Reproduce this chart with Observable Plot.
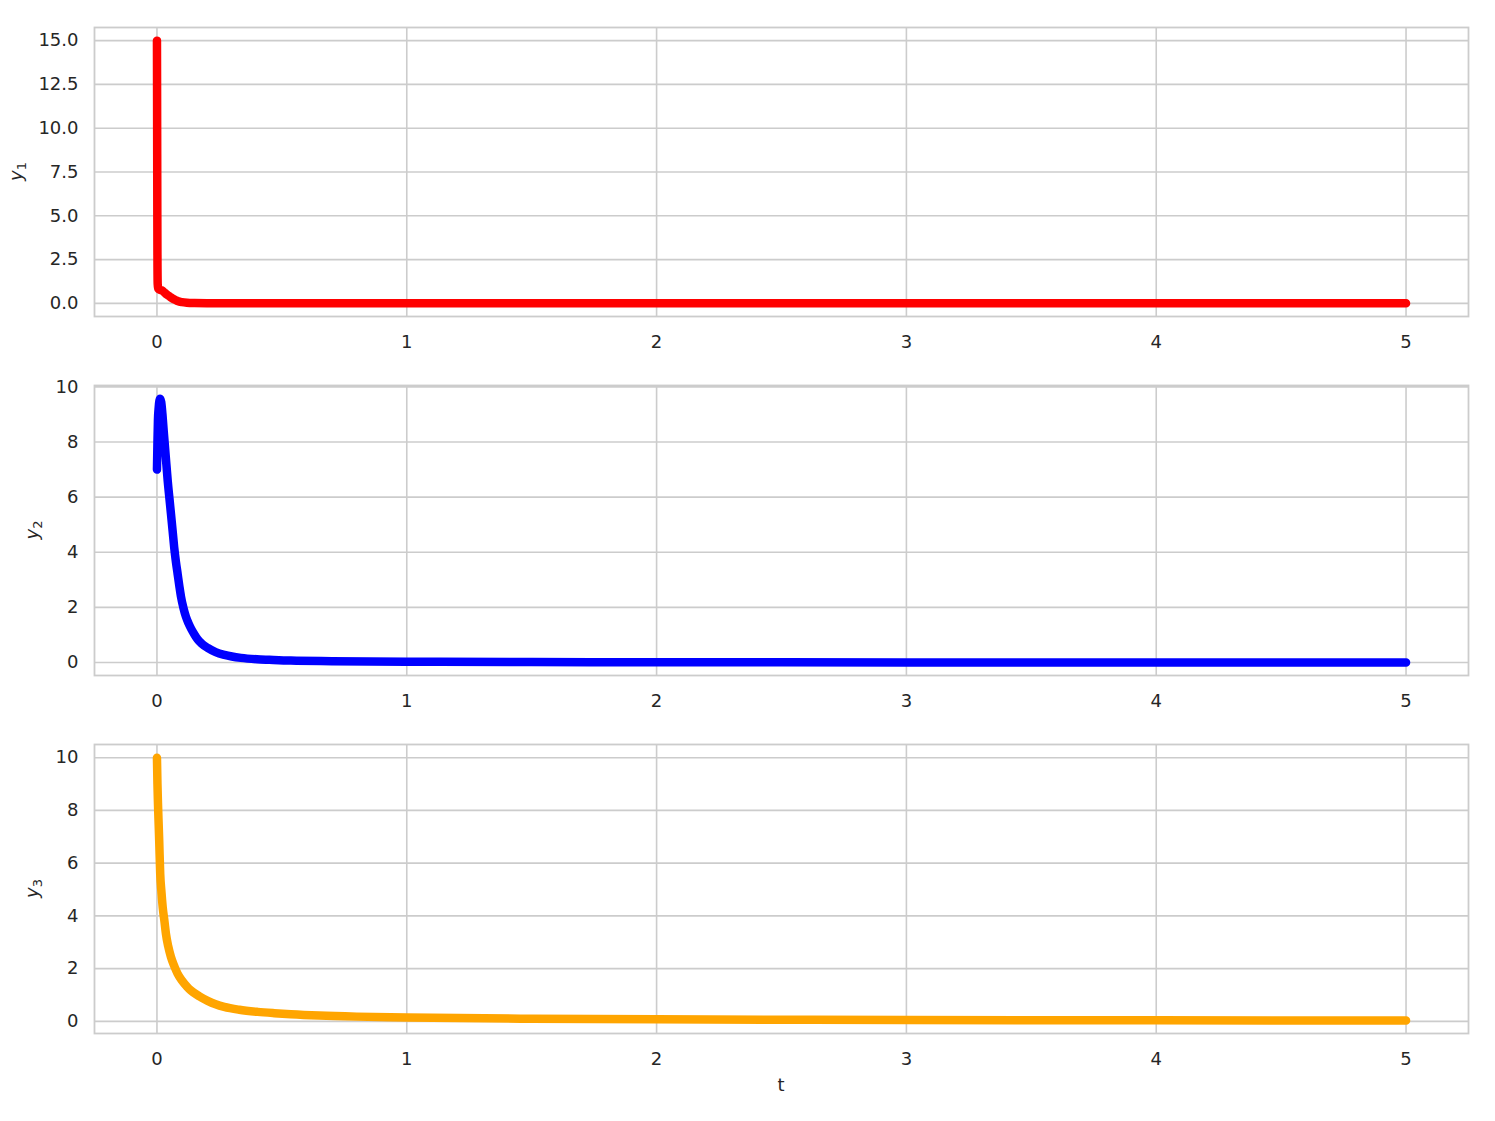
<!DOCTYPE html>
<html>
<head>
<meta charset="utf-8">
<script src="https://cdn.jsdelivr.net/npm/d3@7"></script>
<script src="https://cdn.jsdelivr.net/npm/@observablehq/plot@0.6"></script>
<style>
  html, body { margin: 0; padding: 0; background: white; }
  svg { display: block; }
</style>
</head>
<body>
<div id="chart"></div>
<script>
// ---- data ----
const xTicks = [0, 1, 2, 3, 4, 5];
const y1Ticks = [0, 2.5, 5, 7.5, 10, 12.5, 15];
const y23Ticks = [0, 2, 4, 6, 8, 10];

const t1 = [0, 0.0005, 0.001, 0.0015, 0.002, 0.003, 0.005, 0.012, 0.02, 0.03, 0.04, 0.05, 0.06, 0.07, 0.08, 0.09, 0.1, 0.12, 0.15, 0.2, 0.3, 0.5, 1, 2, 3, 4, 5];
const y1  = [15, 12, 8.5, 5, 2.5, 1.1, 0.85, 0.78, 0.74, 0.62, 0.5, 0.4, 0.3, 0.22, 0.15, 0.1, 0.07, 0.035, 0.015, 0.005, 0.002, 0.001, 0, 0, 0, 0, 0];

const t2 = [0, 0.002, 0.004, 0.007, 0.01, 0.013, 0.017, 0.022, 0.027, 0.035, 0.043, 0.05, 0.056, 0.063, 0.069, 0.076, 0.083, 0.09, 0.096, 0.106, 0.116, 0.126, 0.136, 0.15, 0.163, 0.18, 0.203, 0.235, 0.27, 0.3, 0.336, 0.4, 0.45, 0.536, 0.7, 1, 1.5, 2, 3, 4, 5];
const y2 = [7.0, 8.0, 8.8, 9.25, 9.5, 9.57, 9.45, 9.0, 8.4, 7.5, 6.6, 5.95, 5.4, 4.75, 4.18, 3.65, 3.2, 2.75, 2.4, 1.98, 1.66, 1.43, 1.24, 1.02, 0.84, 0.68, 0.53, 0.38, 0.28, 0.22, 0.17, 0.12, 0.1, 0.07, 0.05, 0.03, 0.02, 0.01, 0.005, 0.002, 0];

const t3 = [0, 0.002, 0.004, 0.006, 0.009, 0.013, 0.018, 0.023, 0.03, 0.036, 0.045, 0.056, 0.07, 0.083, 0.1, 0.12, 0.136, 0.17, 0.203, 0.235, 0.269, 0.33, 0.403, 0.47, 0.536, 0.65, 0.8, 1, 1.5, 2, 3, 4, 5];
const y3 = [10.0, 9.0, 8.3, 7.7, 6.86, 5.6, 4.9, 4.33, 3.8, 3.32, 2.85, 2.44, 2.08, 1.8, 1.55, 1.32, 1.17, 0.95, 0.78, 0.65, 0.55, 0.44, 0.36, 0.31, 0.27, 0.22, 0.18, 0.15, 0.1, 0.08, 0.05, 0.04, 0.03];

const panels = [
  {t: t1, y: y1, color: "#ff0000", domain: [-0.75, 15.75], ticks: y1Ticks, fmt: d3.format(".1f"),
   height: 359, marginTop: 27, marginBottom: 43, sub: "1", labelX: 22},
  {t: t2, y: y2, color: "#0000ff", domain: [-0.47, 10.05], ticks: y23Ticks, fmt: d3.format("d"),
   height: 359, marginTop: 26, marginBottom: 43, sub: "2", labelX: 38},
  {t: t3, y: y3, color: "#ffa500", domain: [-0.46, 10.5], ticks: y23Ticks, fmt: d3.format("d"),
   height: 403, marginTop: 26, marginBottom: 88, sub: "3", labelX: 38, xlabel: "t"}
];

const container = document.getElementById("chart");
const W = 1495, ML = 94, MR = 27;
const FS = "18px";
const grid = {stroke: "#cccccc", strokeOpacity: 1, strokeWidth: 1.6};

for (const p of panels) {
  const data = p.t.map((t, i) => ({t, v: p.y[i]}));
  const svg = Plot.plot({
    width: W,
    height: p.height,
    marginLeft: ML,
    marginRight: MR,
    marginTop: p.marginTop,
    marginBottom: p.marginBottom,
    style: {fontFamily: "DejaVu Sans", fontSize: FS, color: "#262626", background: "white"},
    x: {domain: [-0.25, 5.25], ticks: xTicks, tickSize: 0, tickPadding: 19, tickFormat: d3.format("d"), label: null},
    y: {domain: p.domain, ticks: p.ticks, tickSize: 0, tickPadding: 16, tickFormat: p.fmt, label: null},
    marks: [
      Plot.gridX(xTicks, grid),
      Plot.gridY(p.ticks, grid),
      Plot.line(data, {x: "t", y: "v", stroke: p.color, strokeWidth: 8.5, curve: "monotone-x",
                       strokeLinecap: "round", strokeLinejoin: "round"}),
      Plot.frame({stroke: "#cccccc", strokeWidth: 1.8})
    ]
  });
  const s = d3.select(svg);
  const cy = p.marginTop + (p.height - p.marginTop - p.marginBottom) / 2;
  const lbl = s.append("text")
    .attr("transform", `translate(${p.labelX},${cy}) rotate(-90)`)
    .attr("text-anchor", "middle")
    .attr("fill", "#262626")
    .style("font-family", "DejaVu Sans")
    .style("font-size", FS);
  lbl.append("tspan").style("font-style", "italic").text("y");
  lbl.append("tspan").attr("dy", 4).style("font-size", "13px").text(p.sub);
  if (p.xlabel) {
    s.append("text")
      .attr("x", ML + (W - ML - MR) / 2)
      .attr("y", 373)
      .attr("text-anchor", "middle")
      .attr("fill", "#262626")
      .style("font-family", "DejaVu Sans")
      .style("font-size", FS)
      .text(p.xlabel);
  }
  container.appendChild(svg);
}
</script>
</body>
</html>
